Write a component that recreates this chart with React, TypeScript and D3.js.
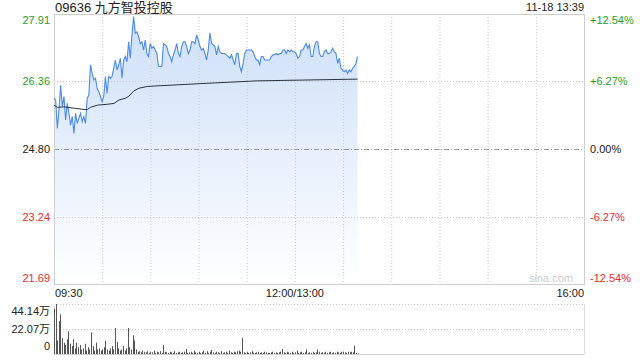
import React from "react";
import * as d3 from "d3";

const title = "09636 九方智投控股";
const stamp = "11-18 13:39";
const prevClose = 24.8;
const priceMin = 21.69;
const priceMax = 27.91;
const priceTicks = [27.91, 26.36, 24.8, 23.24, 21.69];
const pctTicks = ["+12.54%", "+6.27%", "0.00%", "-6.27%", "-12.54%"];
const timeTickMinutes = [0, 150, 330];
const timeTickLabels = ["09:30", "12:00/13:00", "16:00"];
const gridMinutes = [30, 60, 90, 120, 150, 180, 210, 240, 270, 300];
const lastMinute = 189;
const volMax = 44.14;
const volTicks = [44.14, 22.07, 0];
const volTickLabels = ["44.14万", "22.07万", "0"];

const prices = [
  25.97, 25.93, 25.28, 25.7, 26.27, 25.78, 26.01, 25.47, 25.85, 25.62,
  25.35, 25.55, 25.16, 25.62, 25.39, 25.51, 25.62, 25.43, 25.55, 25.39,
  25.97, 26.04, 26.74, 26.54, 26.39, 26.43, 26.2, 26.12, 26.01, 25.89,
  26.01, 26.47, 26.08, 26.47, 26.43, 26.47, 26.66, 26.85, 26.62, 26.74,
  26.89, 26.43, 26.85, 26.93, 26.81, 27.27, 26.89, 27.43, 27.85, 27.47,
  27.5, 27.39, 27.23, 27.27, 27.08, 27.31, 27.0, 26.93, 27.23, 27.12,
  27.16,
  27.08, 27.0, 26.7, 26.7, 26.7, 27.23, 27.2, 27.16, 27.0, 26.93,
  26.81, 26.97, 27.08, 27.23, 27.0, 26.93, 27.16, 27.27, 27.27, 27.16,
  27.0, 27.08, 27.27, 27.27, 27.23, 27.43, 27.31, 27.16, 27.08, 27.12,
  27.0, 26.85, 27.08, 27.47, 27.23, 27.2, 27.16, 26.97, 27.16, 27.04,
  27.0, 27.0, 27.0, 26.97, 26.93, 26.89, 26.97, 26.85, 26.74, 27.0,
  27.0, 26.7, 26.58, 26.77, 27.0, 27.08, 27.08, 27.08, 27.08, 27.04,
  26.93, 26.85,
  26.85, 26.74, 26.93, 26.93, 26.85, 26.85, 26.85, 26.85, 26.93, 26.97,
  26.97, 27.0, 26.97, 27.0, 27.0, 27.08, 27.08, 27.0, 27.08, 27.04,
  27.08, 27.04, 27.04, 27.0, 26.89, 26.93, 27.08, 27.08, 27.16, 27.23,
  27.12, 27.2, 26.93, 26.93, 27.16, 27.27, 27.27, 27.0, 26.93, 26.93,
  27.04, 27.08, 27.0, 27.0, 27.04, 27.12, 27.04, 27.0, 26.77, 26.89,
  26.66, 26.62, 26.58, 26.62, 26.54, 26.62, 26.58, 26.66, 26.7, 26.77,
  26.93,
];

const avgMinutes = [0, 2.1, 6.2, 12.5, 18.7, 20.8, 22.8, 27, 33.2, 37.4, 40.5, 44.6, 46.7, 49.8, 52.9, 58.1, 62.3, 93.4, 126.6, 158.2, 189];
const avgValues = [25.81, 25.76, 25.77, 25.74, 25.71, 25.71, 25.76, 25.81, 25.83, 25.85, 25.93, 25.97, 26.02, 26.14, 26.2, 26.24, 26.25, 26.31, 26.37, 26.39, 26.41];

const volumes = [
  40, 44.14, 12, 29, 35, 14, 10, 8, 13, 20,
  9, 7, 13, 5, 10, 6, 8, 4, 5, 9,
  3, 6, 4, 19, 7, 3, 10, 4, 5, 3,
  4, 6, 11.6, 4, 3, 5, 7, 4, 23, 10.7,
  5, 3, 4, 7, 3, 5, 23, 6, 4, 16.5,
  12, 4, 2, 2.5, 1.5, 3, 2, 1.5, 2.5, 1,
  2, 1.5, 3, 1, 2, 1.5, 2.5, 1, 7.8, 2,
  1.5, 1, 2, 1.5, 1, 2.5, 1, 1.5, 2, 1,
  1.5, 2, 4.4, 1, 1.5, 2, 1, 3, 1.5, 1,
  2, 1, 1.5, 3, 1, 2.5, 1, 2, 3.5, 1.5,
  1, 2, 1.5, 1, 2.5, 1, 1.5, 2, 1, 3,
  1.5, 1, 2, 1.5, 2.5, 3, 2, 14, 1.5, 1,
  2, 1, 1.5, 2.5, 1, 1, 1.5, 2, 1, 1.5,
  1, 2, 1.5, 1, 1, 1.5, 2, 1, 1.5, 1,
  1.5, 2, 4.4, 1.5, 1, 2, 1.5, 1, 2, 1,
  1.5, 2.9, 1, 1.5, 2, 1, 1.5, 4, 1, 1.5,
  1, 2, 1, 1.5, 4, 2, 1, 1.5, 1, 2,
  1, 1.5, 2, 1, 1.5, 1, 2, 1.5, 1, 2,
  2.1, 1.5, 1, 2, 1.5, 2, 1.5, 7.4, 1, 0.5,
];

const FONT = "'Liberation Sans', Arial, 'Noto Sans CJK SC', sans-serif";
const GREEN = "#1f9f1f";
const RED = "#ee2a2a";

export default function App() {
  const L = 54, R = 584, T = 14, B = 284;
  const VT = 304, VB = 354;
  const x = d3.scaleLinear().domain([0, 330]).range([L, R]);
  const y = d3.scaleLinear().domain([priceMin, priceMax]).range([B, T]);
  const vy = d3.scaleLinear().domain([0, volMax]).range([VB, VT]);
  const n = prices.length;
  const minuteOf = (i: number) => (i * lastMinute) / (n - 1);

  const line = d3.line<number>().x((_, i) => x(minuteOf(i))).y((d) => y(d));
  const area = d3.area<number>().x((_, i) => x(minuteOf(i))).y0(B).y1((d) => y(d));
  const avgLine = d3.line<number>().x((_, i) => x(avgMinutes[i])).y((d) => y(d));

  const labelColor = (v: number) => (v > prevClose + 0.001 ? GREEN : v < prevClose - 0.001 ? RED : "#222");
  const labelBaseline = (i: number, v: number) => (i === 0 ? y(v) + 10 : i === priceTicks.length - 1 ? y(v) - 2 : y(v) + 4);

  return (
    <svg width={640} height={360} style={{ position: "fixed", left: 0, top: 0, background: "#fff" }} fontFamily={FONT}>
      <defs>
        <linearGradient id="fillG" gradientUnits="userSpaceOnUse" x1={0} y1={T} x2={0} y2={B}>
          <stop offset="0" stopColor="#cddff8" />
          <stop offset="1" stopColor="#ffffff" />
        </linearGradient>
      </defs>
      <rect x={0} y={0} width={640} height={360} fill="#fff" />
      <text x={55} y={11.5} fontSize={13} fill="#222">{title}</text>
      <text x={R} y={11} fontSize={11} fill="#222" textAnchor="end">{stamp}</text>

      {/* area + grid */}
      <path d={area(prices) || ""} fill="url(#fillG)" />
      {gridMinutes.map((m) => (
        <line key={m} x1={x(m) + 0.5} x2={x(m) + 0.5} y1={T} y2={B} stroke="#c8c8c8" strokeDasharray="1 2" />
      ))}
      {priceTicks.slice(1, -1).map((v) => (
        v === prevClose ? (
          <line key={v} x1={L} x2={R} y1={Math.round(y(v)) + 0.5} y2={Math.round(y(v)) + 0.5} stroke="#999" strokeDasharray="5 2 1 2" />
        ) : (
          <line key={v} x1={L} x2={R} y1={Math.round(y(v)) + 0.5} y2={Math.round(y(v)) + 0.5} stroke="#c8c8c8" strokeDasharray="1 2" />
        )
      ))}
      <rect x={L + 0.5} y={T + 0.5} width={R - L} height={B - T} fill="none" stroke="#cfcfcf" />
      <text x={R - 11} y={B - 2.5} fontSize={11} fill="#cccccc" textAnchor="end">sina.com</text>

      <path d={line(prices) || ""} fill="none" stroke="#4a8ae8" strokeWidth={1.1} />
      <path d={avgLine(avgValues) || ""} fill="none" stroke="#2b3340" strokeWidth={1} />

      {priceTicks.map((v, i) => (
        <text key={v} x={50} y={labelBaseline(i, v)} fontSize={11} fill={labelColor(v)} textAnchor="end">{v.toFixed(2)}</text>
      ))}
      {priceTicks.map((v, i) => (
        <text key={"p" + v} x={590} y={labelBaseline(i, v)} fontSize={11} fill={labelColor(v)}>{pctTicks[i]}</text>
      ))}
      {timeTickMinutes.map((m, i) => (
        <text key={m} x={i === 0 ? x(m) + 1 : x(m)} y={297} fontSize={11} fill="#222"
          textAnchor={i === 0 ? "start" : i === timeTickMinutes.length - 1 ? "end" : "middle"}>{timeTickLabels[i]}</text>
      ))}

      {/* volume */}
      <line x1={L} x2={R} y1={VT + 0.5} y2={VT + 0.5} stroke="#c8c8c8" strokeDasharray="1 2" />
      <line x1={L} x2={R} y1={Math.round(vy(volMax / 2)) + 0.5} y2={Math.round(vy(volMax / 2)) + 0.5} stroke="#c8c8c8" strokeDasharray="1 2" />
      <line x1={L} x2={R} y1={VB + 0.5} y2={VB + 0.5} stroke="#d0d0d0" />
      <line x1={L + 0.5} x2={L + 0.5} y1={VT} y2={VB} stroke="#dcdcdc" />
      <line x1={R + 0.5} x2={R + 0.5} y1={VT} y2={VB} stroke="#dcdcdc" />
      {volumes.map((v, i) => (
        <rect key={i} x={Math.round(x(i)) + 0.0} y={vy(v)} width={1} height={VB - vy(v)} fill="#555" />
      ))}
      {volTicks.map((v, i) => (
        <text key={v} x={50} y={i === 0 ? 315 : i === 1 ? 333 : 350} fontSize={11} fill="#222" textAnchor="end">{volTickLabels[i]}</text>
      ))}
    </svg>
  );
}
